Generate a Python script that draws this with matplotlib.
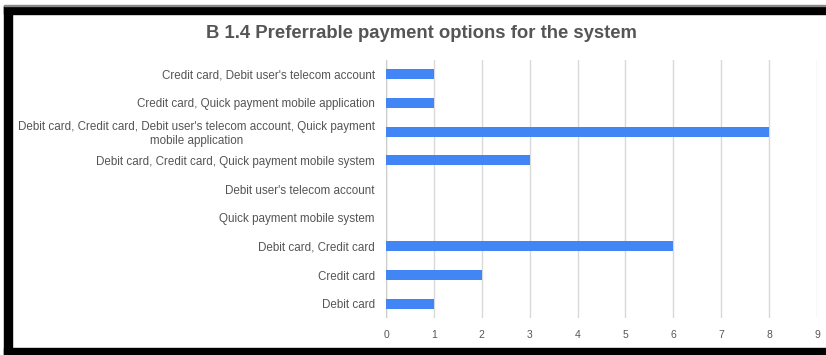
import matplotlib.pyplot as plt
from matplotlib.patches import Rectangle

plt.rcParams['font.family'] = ['Liberation Sans', 'DejaVu Sans']

# payment option combinations, listed bottom to top
options = [
    "Debit card",
    "Credit card",
    "Debit card, Credit card",
    "Quick payment mobile system",
    "Debit user's telecom account",
    "Debit card, Credit card, Quick payment mobile system",
    "Debit card, Credit card, Debit user's telecom account, Quick payment\nmobile application",
    "Credit card, Quick payment mobile application",
    "Credit card, Debit user's telecom account",
]
responses = [1, 2, 6, 0, 0, 3, 8, 1, 1]
xticks = list(range(10))

W, H = 826, 355
fig = plt.figure(figsize=(W / 100, H / 100), dpi=100)
ax = fig.add_axes([386 / W, 1 - 318 / H, (817 - 386) / W, (318 - 60) / H])

ypos = range(len(options))
ax.barh(ypos, responses, height=0.36, color='#4285f4', zorder=3)
ax.set_ylim(-0.5, len(options) - 0.5)
ax.set_xlim(0, 9)
ax.set_xticks(xticks)
ax.set_xticklabels([str(t) for t in xticks])
ax.set_yticks(list(ypos))
ax.set_yticklabels(options, linespacing=1.15)
ax.xaxis.grid(True, color='#d9d9d9', linewidth=1)
ax.tick_params(axis='both', length=0, colors='#555555')
ax.tick_params(axis='x', pad=9, labelsize=7.5)
ax.tick_params(axis='y', pad=8, labelsize=8.4)
for lbl in ax.get_yticklabels():
    lbl.set_horizontalalignment('right')
    lbl.set_multialignment('center')
for s in ax.spines.values():
    s.set_visible(False)
ax.axvline(0, color='#cccccc', linewidth=1, zorder=2)

fig.text(421 / W, 1 - 34 / H, "B 1.4 Preferrable payment options for the system",
         ha='center', va='center', fontsize=13.3, fontweight='bold', color='#555555')

# black frame along the top, left and bottom edges
frame = [
    (4, 6, W - 4, 8),
    (4, 6, 8, H - 6),
    (4, 348, W - 4, 7),
]
for x, y, w, h in frame:
    fig.add_artist(Rectangle((x / W, 1 - (y + h) / H), w / W, h / H,
                             transform=fig.transFigure, color='black'))
fig.add_artist(Rectangle((4 / W, 1 - 6 / H), (W - 4) / W, 1 / H,
                         transform=fig.transFigure, color='#888888'))

fig.savefig('out.png', dpi=100)
